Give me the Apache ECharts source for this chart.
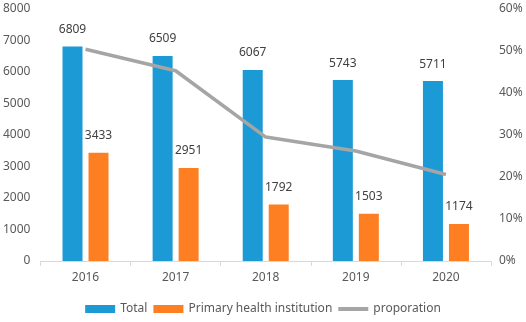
<!DOCTYPE html>
<html>
<head>
<meta charset="utf-8">
<script src="https://cdn.jsdelivr.net/npm/echarts@6/dist/echarts.min.js"></script>
<style>
  html, body { margin: 0; padding: 0; background: #fff; }
  #main { width: 526px; height: 322px; }
</style>
</head>
<body>
<div id="main"></div>
<script>
var years = ['2016', '2017', '2018', '2019', '2020'];
var total = [6809, 6509, 6067, 5743, 5711];
var primary = [3433, 2951, 1792, 1503, 1174];
var proporation = [50.4, 45.3, 29.5, 26.2, 20.6];

var font = 'Noto Sans';
var chart = echarts.init(document.getElementById('main'));

var option = {
  animation: false,
  textStyle: { fontFamily: font },
  grid: { left: 40, right: 35, top: 9, bottom: 61 },
  legend: {
    bottom: 2,
    left: 'center',
    itemWidth: 30,
    itemHeight: 8,
    itemGap: 6,
    textStyle: { fontFamily: font, fontSize: 12, color: '#595959' },
    data: [
      { name: 'Total', icon: 'rect' },
      { name: 'Primary health institution', icon: 'rect' },
      { name: 'proporation', icon: 'path://M0,0 L30,0 L30,4 L0,4 Z' }
    ]
  },
  xAxis: {
    type: 'category',
    data: years,
    axisLine: { lineStyle: { color: '#d9d9d9' } },
    axisTick: { show: true, length: 5, lineStyle: { color: '#d9d9d9' } },
    axisLabel: { color: '#595959', fontSize: 12, margin: 11, fontFamily: font }
  },
  yAxis: [
    {
      type: 'value',
      min: 0, max: 8000, interval: 1000,
      axisLine: { show: false },
      axisTick: { show: false },
      splitLine: { show: false },
      axisLabel: {
        color: '#595959', fontSize: 12, margin: 10, fontFamily: font,
        formatter: function (v) { return String(v); }
      }
    },
    {
      type: 'value',
      min: 0, max: 60, interval: 10,
      axisLine: { show: false },
      axisTick: { show: false },
      splitLine: { show: false },
      axisLabel: { color: '#595959', fontSize: 12, margin: 8, fontFamily: font, formatter: '{value}%' }
    }
  ],
  series: [
    {
      name: 'Total',
      type: 'bar',
      data: total,
      barWidth: 20,
      barGap: '30%',
      itemStyle: { color: '#1b9ad6' },
      label: { show: true, position: 'top', distance: 11, color: '#404040', fontSize: 12, fontFamily: font }
    },
    {
      name: 'Primary health institution',
      type: 'bar',
      data: primary,
      barWidth: 20,
      barGap: '30%',
      itemStyle: { color: '#fd7f22' },
      label: { show: true, position: 'top', distance: 11, color: '#404040', fontSize: 12, fontFamily: font }
    },
    {
      name: 'proporation',
      type: 'line',
      yAxisIndex: 1,
      data: proporation,
      symbol: 'none',
      lineStyle: { color: '#a5a5a5', width: 3.5 },
      itemStyle: { color: '#a5a5a5' }
    }
  ]
};

chart.setOption(option);
</script>
</body>
</html>
